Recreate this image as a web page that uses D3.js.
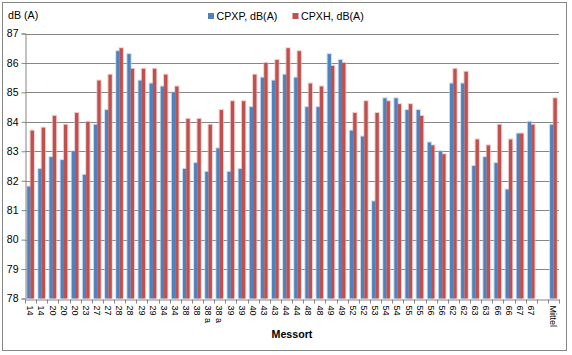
<!DOCTYPE html>
<html>
<head>
<meta charset="utf-8">
<script src="https://cdnjs.cloudflare.com/ajax/libs/d3/7.8.5/d3.min.js"></script>
<style>
  html, body { margin: 0; padding: 0; background: #fff; }
  svg { display: block; font-family: "Liberation Sans", Arial, sans-serif; }
</style>
</head>
<body>
<svg id="chart" width="572" height="355"></svg>
<script>
const categories = ["14","14","20","20","20","23","27","27","28","28","29","29","34","34","38","38","38 a","38 a","39","39","40","43","43","44","44","48","48","49","49","52","52","53","54","54","55","55","56","56","62","62","63","63","66","66","67","67","","Mittel"];
const cpxp = [81.8,82.4,82.8,82.7,83.0,82.2,83.9,84.4,86.4,86.3,85.4,85.3,85.2,85.0,82.4,82.6,82.3,83.1,82.3,82.4,84.5,85.5,85.4,85.6,85.5,84.5,84.5,86.3,86.1,83.7,83.5,81.3,84.8,84.8,84.4,84.4,83.3,83.0,85.3,85.3,82.5,82.8,82.6,81.7,83.6,84.0,null,83.9];
const cpxh = [83.7,83.8,84.2,83.9,84.3,84.0,85.4,85.6,86.5,85.8,85.8,85.8,85.6,85.2,84.1,84.1,83.9,84.4,84.7,84.7,85.6,86.0,86.1,86.5,86.4,85.3,85.2,85.9,86.0,84.3,84.7,84.3,84.7,84.6,84.6,84.2,83.2,82.9,85.8,85.7,83.4,83.2,83.9,83.4,83.6,83.9,null,84.8];
const seriesNames = ["CPXP, dB(A)", "CPXH, dB(A)"];
const seriesColors = ["#4F81BD", "#C0504D"];
const haloColors = ["#B9CDE5", "#E6B9B8"];
const yTicks = [78,79,80,81,82,83,84,85,86,87];

(function () {
const svg = d3.select("#chart");
const pLeft = 25, pRight = 559, pTop = 33.5, pBottom = 298.5;

// outer border
svg.append("rect").attr("x", 2.5).attr("y", 2.5).attr("width", 564).attr("height", 348)
  .attr("fill", "#fff").attr("stroke", "#868686").attr("stroke-width", 1);

const idx = categories.map((d, i) => i);
const x = d3.scaleBand().domain(idx).range([pLeft, pRight]).paddingInner(0).paddingOuter(0);
const y = d3.scaleLinear().domain([78, 87]).range([pBottom, pTop]);
const bw = 3.35;

// gridlines
svg.append("g").selectAll("line").data(yTicks.filter(t => t > 78)).enter().append("line")
  .attr("x1", pLeft).attr("x2", pRight)
  .attr("y1", d => Math.round(y(d)) + 0.5).attr("y2", d => Math.round(y(d)) + 0.5)
  .attr("stroke", "#868686").attr("stroke-width", 1);

// bars
const series = [cpxp, cpxh];
series.forEach((vals, s) => {
  const g = svg.append("g");
  const data = vals.map((v, i) => ({ v, i })).filter(d => d.v != null);
  g.selectAll("rect.halo").data(data).enter().append("rect")
    .attr("x", d => x(d.i) + x.bandwidth() / 2 - bw + s * bw - 1)
    .attr("y", d => y(d.v) - 1)
    .attr("width", bw + 2)
    .attr("height", d => pBottom - y(d.v) + 1)
    .attr("fill", haloColors[s]).attr("opacity", 0.7);
});
series.forEach((vals, s) => {
  const g = svg.append("g");
  const data = vals.map((v, i) => ({ v, i })).filter(d => d.v != null);
  g.selectAll("rect.bar").data(data).enter().append("rect")
    .attr("x", d => x(d.i) + x.bandwidth() / 2 - bw + s * bw)
    .attr("y", d => y(d.v))
    .attr("width", bw)
    .attr("height", d => pBottom - y(d.v))
    .attr("fill", seriesColors[s]);
});

// y axis
const yAxis = d3.axisLeft(y).tickValues(yTicks).tickSize(4).tickPadding(3).tickFormat(d3.format("d"));
const gy = svg.append("g").attr("transform", `translate(${pLeft + 0.5},0)`).call(yAxis);
gy.select(".domain").attr("stroke", "#868686");
gy.selectAll(".tick line").attr("stroke", "#868686");
gy.selectAll("text").attr("font-size", "10.5px").attr("fill", "#000").attr("font-family", "Liberation Sans, Arial, sans-serif");

// x axis
const xAxis = d3.axisBottom(x).tickFormat(i => categories[i]).tickSize(0).tickPadding(0);
const gx = svg.append("g").attr("transform", `translate(0,${Math.round(pBottom) + 0.5})`).call(xAxis);
gx.select(".domain").attr("stroke", "#868686");
gx.selectAll(".tick text")
  .attr("font-size", "9px").attr("fill", "#000").attr("font-family", "Liberation Sans, Arial, sans-serif")
  .attr("text-anchor", "start").attr("dy", null)
  .attr("transform", "translate(-3.2,6) rotate(90)")
  .attr("x", 0).attr("y", 0);
// tick marks between categories
gx.append("g").selectAll("line").data(d3.range(categories.length + 1)).enter().append("line")
  .attr("x1", i => Math.round(pLeft + i * x.bandwidth()) + 0.5)
  .attr("x2", i => Math.round(pLeft + i * x.bandwidth()) + 0.5)
  .attr("y1", 0).attr("y2", 4).attr("stroke", "#868686");

// axis titles
svg.append("text").attr("x", 8).attr("y", 19).attr("font-size", "10.67px").text("dB (A)");
svg.append("text").attr("x", (pLeft + pRight) / 2).attr("y", 338).attr("text-anchor", "middle")
  .attr("font-size", "10.67px").attr("font-weight", "bold").text("Messort");

// legend
const legendX = [208, 292.5];
seriesNames.forEach((n, s) => {
  svg.append("rect").attr("x", legendX[s]).attr("y", 13).attr("width", 6).attr("height", 6).attr("fill", seriesColors[s]);
  svg.append("text").attr("x", legendX[s] + 8.5).attr("y", 20).attr("font-size", "10.67px").text(n);
});
})();
</script>
</body>
</html>
